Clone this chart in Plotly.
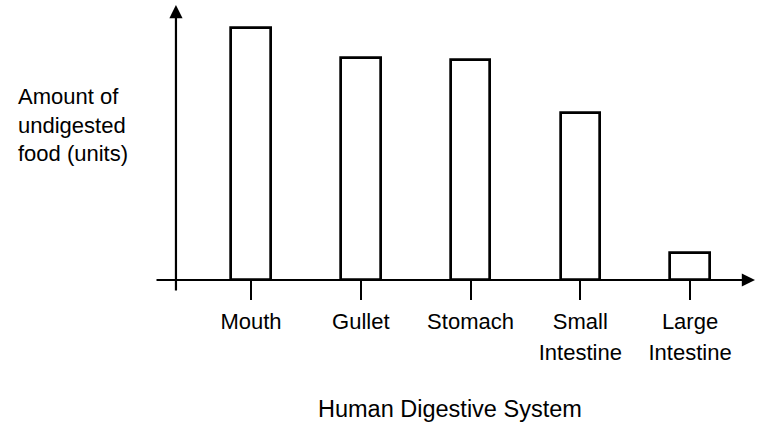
import plotly.graph_objects as go

# ---- data ----
categories = ["Mouth", "Gullet", "Stomach", "Small Intestine", "Large Intestine"]
tick_labels = ["<span style='font-size:22px'>Mouth</span>",
               "<span style='font-size:22px'>Gullet</span>",
               "<span style='font-size:22px'>Stomach</span>",
               "<span style='font-size:22px'>Small</span><br><span style='font-size:22px'>Intestine</span>",
               "<span style='font-size:22px'>Large</span><br><span style='font-size:22px'>Intestine</span>"]
undigested_food = [10.1, 8.9, 8.8, 6.7, 1.1]

x_title = "Human Digestive System"
y_title = "Amount of<br>undigested<br>food (units)"

FONT = "Liberation Sans, Arial, Helvetica, sans-serif"
x_pos = list(range(len(categories)))
XMIN, XMAX = -0.875, 4.592
YMIN, YMAX = 0.0, 11.0
Y_AXIS_X = -0.684
PLOT_TOP, PLOT_BOTTOM = 5, 280
PLOT_H = PLOT_BOTTOM - PLOT_TOP

fig = go.Figure()
fig.add_trace(go.Bar(
    x=x_pos, y=undigested_food, width=0.36,
    marker=dict(color="white", line=dict(color="black", width=2.7)),
    hovertext=categories, showlegend=False,
))

# x-axis with arrow
fig.add_annotation(x=XMAX, y=0, ax=XMIN, ay=0, xref="x", yref="y", axref="x", ayref="y",
                   text="", showarrow=True, arrowhead=2, arrowsize=1.2, arrowwidth=2.2,
                   arrowcolor="black", standoff=0)
# y-axis with arrow
fig.add_annotation(x=Y_AXIS_X, y=YMAX, ax=Y_AXIS_X, ay=-0.48, xref="x", yref="y", axref="x", ayref="y",
                   text="", showarrow=True, arrowhead=2, arrowsize=1.2, arrowwidth=2.2,
                   arrowcolor="black", standoff=0)

# y title
fig.add_annotation(x=-139 / 600, y=1 - (125 - PLOT_TOP) / PLOT_H, xref="paper", yref="paper",
                   text=y_title, showarrow=False, xanchor="left", yanchor="middle", align="left",
                   font=dict(family=FONT, size=22, color="black"))
# x title
fig.add_annotation(x=(450 - 155) / 600, y=-(409 - PLOT_BOTTOM) / PLOT_H, xref="paper", yref="paper",
                   text=x_title, showarrow=False, xanchor="center", yanchor="middle",
                   font=dict(family=FONT, size=23.5, color="black"))

fig.update_layout(
    width=758, height=428,
    margin=dict(l=155, r=3, t=PLOT_TOP, b=428 - PLOT_BOTTOM, autoexpand=False),
    paper_bgcolor="white", plot_bgcolor="white",
    bargap=0,
    xaxis=dict(range=[XMIN, XMAX], tickvals=x_pos, ticktext=tick_labels,
               ticks="outside", ticklen=19, tickwidth=2, tickcolor="black",
               showgrid=False, zeroline=False, showline=False, automargin=False,
               tickfont=dict(family=FONT, size=24, color="black")),
    yaxis=dict(range=[YMIN, YMAX], visible=False, automargin=False),
)

fig.write_html("out.html", config={"displayModeBar": False},
               post_script="document.body.style.margin='0px';")
